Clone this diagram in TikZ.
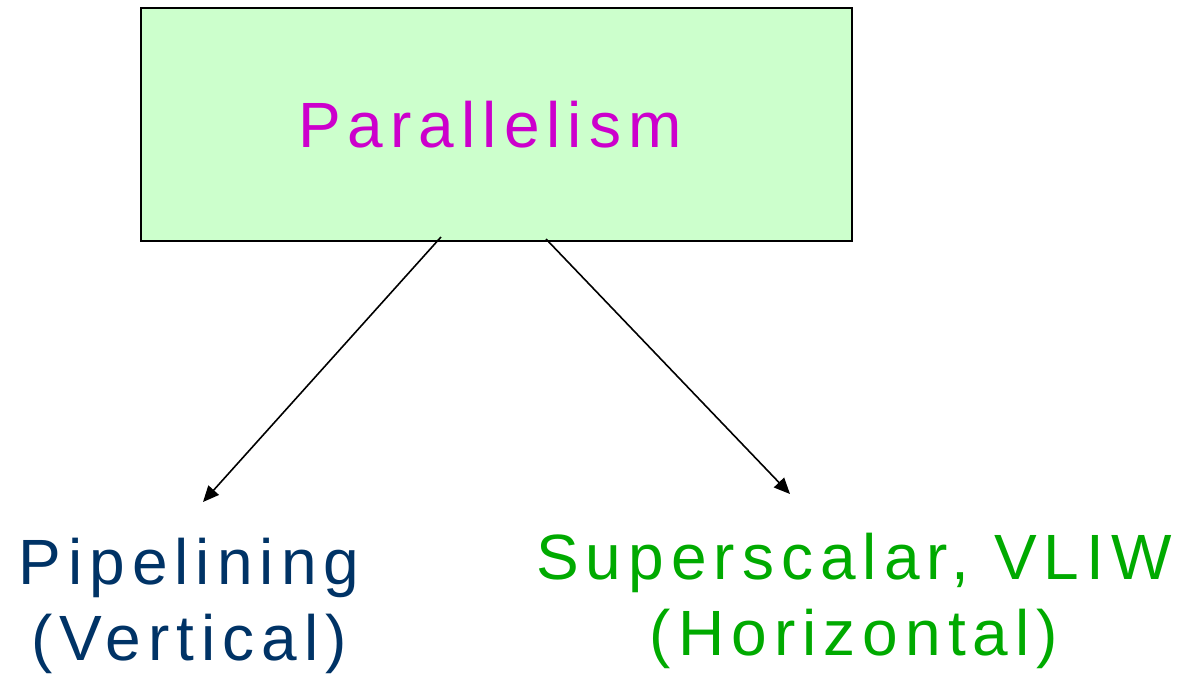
\documentclass[tikz,border=0pt]{standalone}
\usepackage{fontspec}
\setmainfont{Liberation Sans}[LetterSpace=11]
\usetikzlibrary{arrows.meta}
\definecolor{boxfill}{HTML}{CCFFCC}
\definecolor{magentatxt}{HTML}{CC00CC}
\definecolor{bluetxt}{HTML}{003366}
\definecolor{greentxt}{HTML}{00AA00}
\tikzset{
  bigtext/.style={font=\fontsize{64}{76}\selectfont, align=center, inner sep=0pt},
  arr/.style={line width=1.6pt, -{Triangle[length=16pt,width=14pt]}},
}
\begin{document}
\begin{tikzpicture}[x=1pt,y=-1pt]
\useasboundingbox (0,0) rectangle (1183,673);
\fill[white] (0,0) rectangle (1183,673);
\node[draw, fill=boxfill, line width=1.8pt, minimum width=711pt, minimum height=233pt, anchor=north west, inner sep=0pt] (box) at (140,7) {};
\node[bigtext, text=magentatxt, anchor=base] (par) at (490,147) {Parallelism};
\node[bigtext, text=bluetxt, anchor=base] (pipe) at (189,660) {Pipelining\\(Vertical)};
\node[bigtext, text=greentxt, anchor=base] (sup) at (854,655) {Superscalar, VLIW\\(Horizontal)};
\coordinate (s1) at (441,237);
\coordinate (e1) at (203,502);
\coordinate (s2) at (546,239);
\coordinate (e2) at (790,494);
\draw[arr] (s1) -- (e1);
\draw[arr] (s2) -- (e2);
\end{tikzpicture}
\end{document}
